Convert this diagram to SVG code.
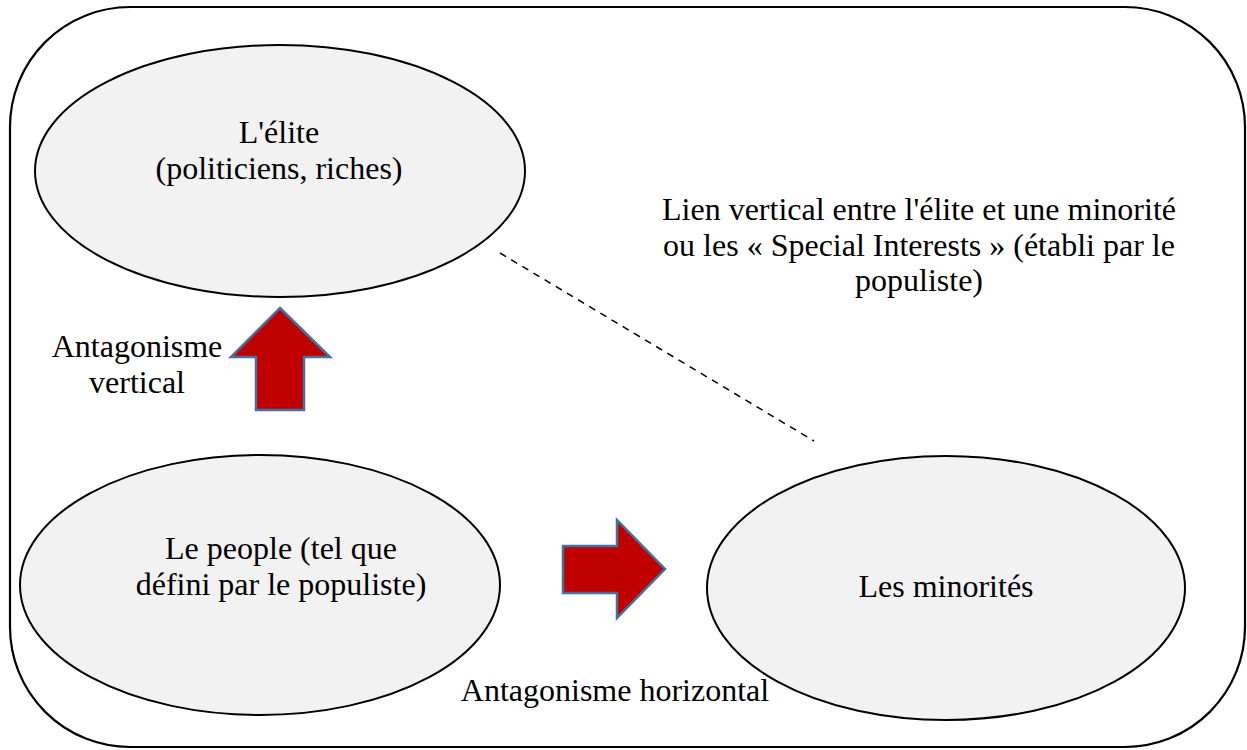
<svg xmlns="http://www.w3.org/2000/svg" width="1247" height="750" viewBox="0 0 1247 750">
<style>
.t{font-family:"Liberation Serif","Times New Roman",serif;font-size:32px;fill:#000;text-anchor:middle}
.n{fill:#f2f2f2;stroke:#000;stroke-width:2}
.a{fill:#c00000;stroke:#41719c;stroke-width:2.5;stroke-linejoin:miter}
</style>
<rect x="0" y="0" width="1247" height="750" fill="#fff"/>
<rect id="frame" x="10" y="7" width="1235" height="740" rx="120" ry="120" fill="none" stroke="#000" stroke-width="2.2"/>
<g id="connectors">
<line x1="500" y1="253" x2="814" y2="441" stroke="#000" stroke-width="1.5" stroke-dasharray="7,6"/>
<polygon class="a" points="280,308 330,357 304,357 304,410 256,410 256,357 231,357"/>
<polygon class="a" points="563,546 617,546 617,520 665,569 617,618 617,593 563,593"/>
</g>
<g id="elite">
<ellipse class="n" cx="280" cy="171" rx="245" ry="126"/>
<text class="t" x="279" y="143">L'élite</text>
<text class="t" x="279" y="179">(politiciens, riches)</text>
</g>
<g id="people">
<ellipse class="n" cx="260" cy="585" rx="240" ry="130"/>
<text class="t" x="281" y="559">Le people (tel que</text>
<text class="t" x="281" y="595">défini par le populiste)</text>
</g>
<g id="minorites">
<ellipse class="n" cx="946" cy="588" rx="239" ry="132"/>
<text class="t" x="946" y="597">Les minorités</text>
</g>
<g id="labels">
<text class="t" x="919" y="220">Lien vertical entre l'élite et une minorité</text>
<text class="t" x="919" y="256">ou les « Special Interests » (établi par le</text>
<text class="t" x="919" y="291">populiste)</text>
<text class="t" x="137" y="357">Antagonisme</text>
<text class="t" x="137" y="393">vertical</text>
<text class="t" x="615" y="701">Antagonisme horizontal</text>
</g>
</svg>
